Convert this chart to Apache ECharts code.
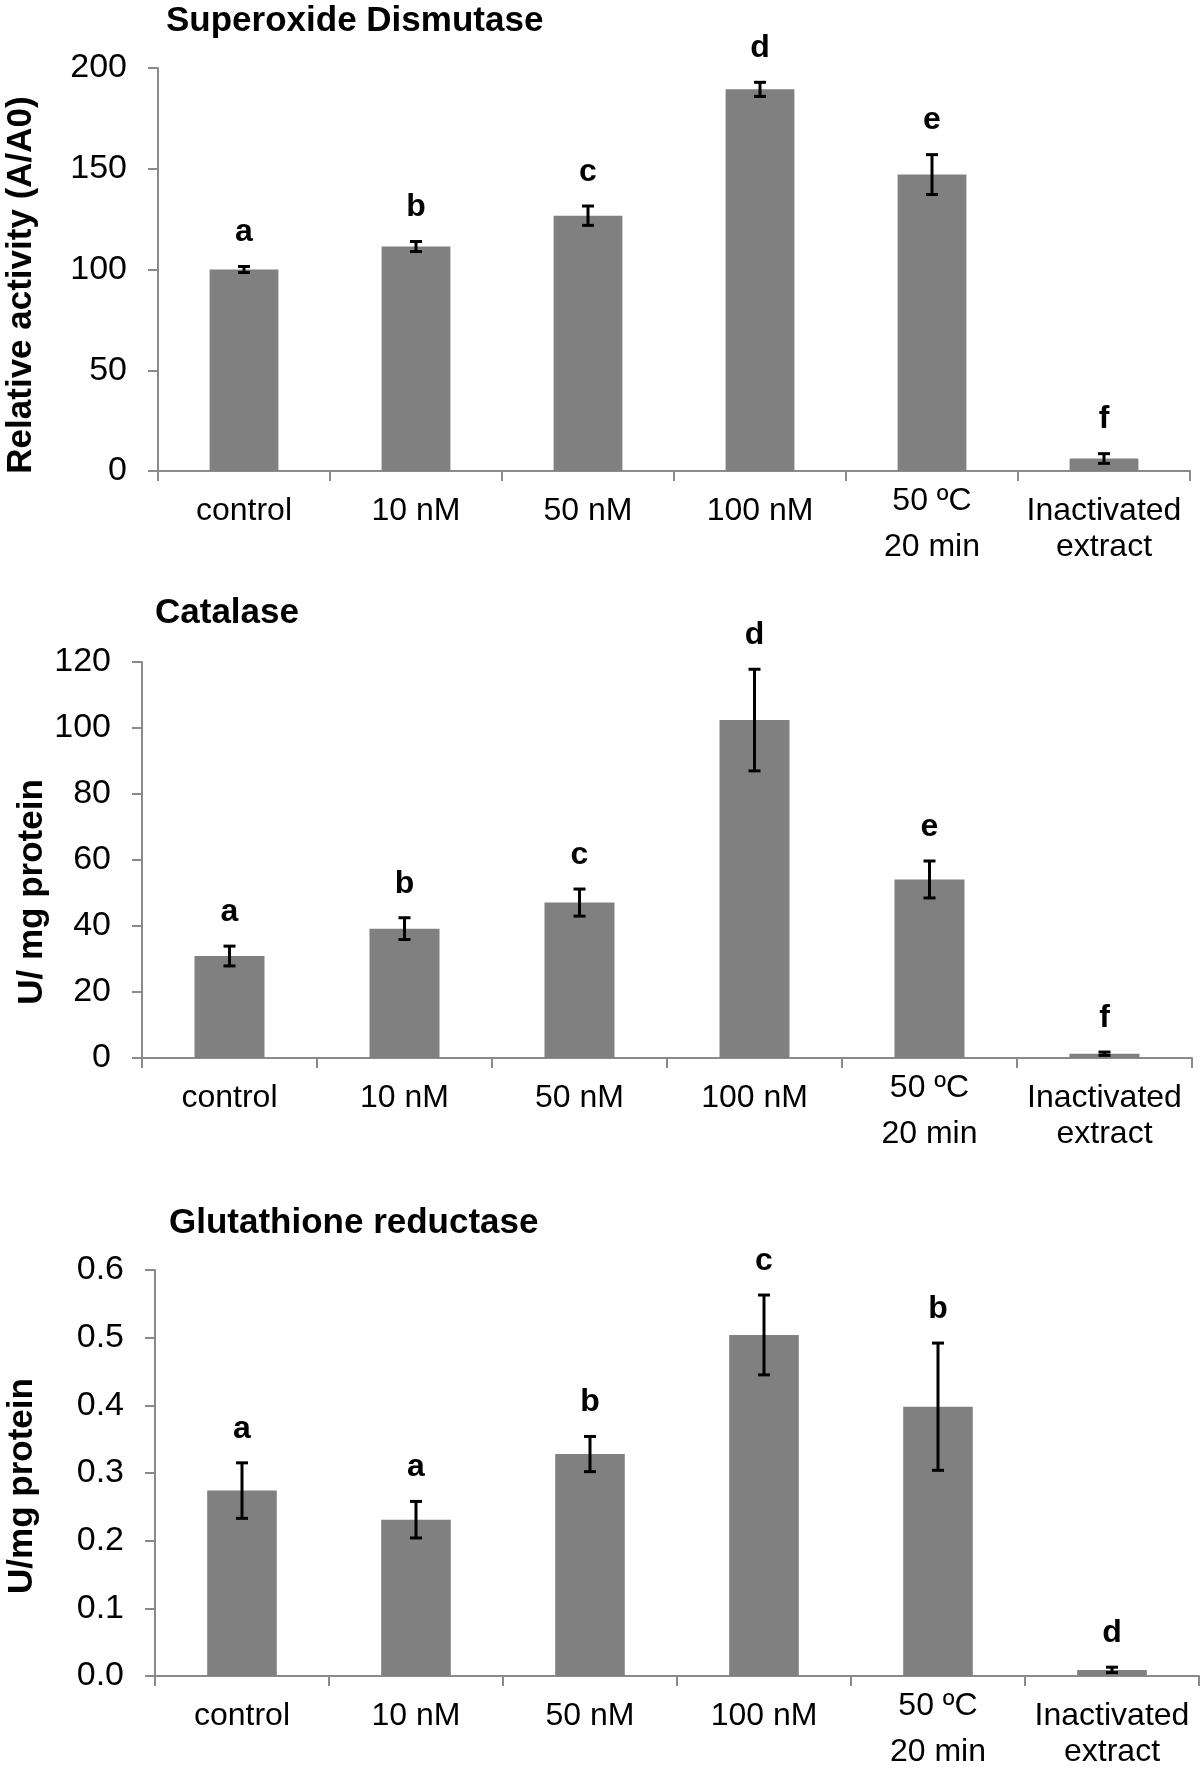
<!DOCTYPE html>
<html>
<head>
<meta charset="utf-8">
<script src="https://cdn.jsdelivr.net/npm/echarts@6/dist/echarts.min.js"></script>
<style>
  html, body { margin: 0; padding: 0; background: #fff; }
  #main { width: 1200px; height: 1771px; }
</style>
</head>
<body>
<div id="main"></div>
<script>
const categories = ['control', '10 nM', '50 nM', '100 nM', '50 ºC\n20 min', 'Inactivated\nextract'];

// Superoxide Dismutase, relative activity (A/A0)
const sodValues = [100, 111.4, 126.7, 189.4, 147.1, 6.2];
const sodErrors = [1.5, 2.5, 4.8, 3.5, 9.9, 2.4];
const sodLetters = ['a', 'b', 'c', 'd', 'e', 'f'];

// Catalase, U/ mg protein
const catValues = [30.9, 39.2, 47.1, 102.4, 54.1, 1.3];
const catErrors = [3.0, 3.3, 4.1, 15.4, 5.6, 0.5];
const catLetters = ['a', 'b', 'c', 'd', 'e', 'f'];

// Glutathione reductase, U/mg protein
const grValues = [0.274, 0.231, 0.328, 0.504, 0.398, 0.009];
const grErrors = [0.041, 0.027, 0.026, 0.059, 0.094, 0.004];
const grLetters = ['a', 'a', 'b', 'c', 'b', 'd'];

const FONT = '"Liberation Sans", Arial, Helvetica, sans-serif';
const AXIS_GREY = '#8a8a8a';
const BAR_GREY = '#808080';

function xAxisFor(idx) {
  return {
    type: 'category',
    gridIndex: idx,
    data: categories,
    axisLine: { lineStyle: { color: AXIS_GREY, width: 2 } },
    axisTick: { show: true, length: 10, interval: 0, lineStyle: { color: AXIS_GREY, width: 2 } },
    axisLabel: {
      interval: 0,
      margin: 22,
      color: '#000',
      fontFamily: FONT,
      fontSize: 32,
      lineHeight: 36,
      formatter: function (v) {
        if (v.indexOf('ºC') >= 0) {
          const p = v.split('\n');
          return '{up|' + p[0] + '}\n{dn|' + p[1] + '}';
        }
        return v;
      },
      rich: {
        up: { fontFamily: FONT, fontSize: 32, color: '#000', lineHeight: 16 },
        dn: { fontFamily: FONT, fontSize: 32, color: '#000', lineHeight: 76 }
      }
    }
  };
}

function yAxisFor(idx, max, interval, decimals) {
  return {
    type: 'value',
    gridIndex: idx,
    min: 0,
    max: max,
    interval: interval,
    splitLine: { show: false },
    axisLine: { show: true, lineStyle: { color: AXIS_GREY, width: 2 } },
    axisTick: { show: true, length: 10, lineStyle: { color: AXIS_GREY, width: 2 } },
    axisLabel: {
      margin: 31,
      color: '#000',
      fontFamily: FONT,
      fontSize: 34,
      formatter: function (v) { return decimals ? v.toFixed(decimals) : String(v); }
    }
  };
}

function barSeries(idx, values) {
  return {
    type: 'bar',
    xAxisIndex: idx,
    yAxisIndex: idx,
    data: values,
    barWidth: '40%',
    itemStyle: { color: BAR_GREY },
    silent: true
  };
}

// error bars plus the significance letter above each bar
function errorSeries(idx, values, errors, letters) {
  return {
    type: 'custom',
    xAxisIndex: idx,
    yAxisIndex: idx,
    data: values.map((v, i) => [i, v, errors[i]]),
    z: 5,
    renderItem: function (params, api) {
      const x = api.value(0);
      const hi = api.coord([x, api.value(1) + api.value(2)]);
      const lo = api.coord([x, api.value(1) - api.value(2)]);
      const cap = 6;
      const st = { stroke: '#000', lineWidth: 3 };
      return {
        type: 'group',
        children: [
          { type: 'line', shape: { x1: hi[0], y1: hi[1], x2: lo[0], y2: lo[1] }, style: st },
          { type: 'line', shape: { x1: hi[0] - cap, y1: hi[1], x2: hi[0] + cap, y2: hi[1] }, style: st },
          { type: 'line', shape: { x1: lo[0] - cap, y1: lo[1], x2: lo[0] + cap, y2: lo[1] }, style: st },
          {
            type: 'text',
            x: hi[0],
            y: hi[1] - 18,
            style: {
              text: letters[params.dataIndex],
              fill: '#000',
              font: 'bold 32px ' + FONT,
              align: 'center',
              verticalAlign: 'bottom'
            }
          }
        ]
      };
    }
  };
}

function heading(text, left, cy) {
  return {
    type: 'text', x: left, y: cy,
    style: { text: text, fill: '#000', font: 'bold 35px ' + FONT, verticalAlign: 'middle' }
  };
}

function axisName(text, cx, cy) {
  return {
    type: 'text', x: cx, y: cy, rotation: Math.PI / 2,
    style: { text: text, fill: '#000', font: 'bold 35px ' + FONT, align: 'center', verticalAlign: 'middle' }
  };
}

const chart = echarts.init(document.getElementById('main'));
chart.setOption({
  backgroundColor: '#fff',
  animation: false,
  grid: [
    { left: 158, right: 10, top: 68, height: 403, outerBoundsMode: 'none' },
    { left: 142, right: 8, top: 662, height: 396, outerBoundsMode: 'none' },
    { left: 155, right: 1, top: 1270, height: 406, outerBoundsMode: 'none' }
  ],
  xAxis: [xAxisFor(0), xAxisFor(1), xAxisFor(2)],
  yAxis: [
    yAxisFor(0, 200, 50, 0),
    yAxisFor(1, 120, 20, 0),
    yAxisFor(2, 0.6, 0.1, 1)
  ],
  series: [
    barSeries(0, sodValues),
    errorSeries(0, sodValues, sodErrors, sodLetters),
    barSeries(1, catValues),
    errorSeries(1, catValues, catErrors, catLetters),
    barSeries(2, grValues),
    errorSeries(2, grValues, grErrors, grLetters)
  ],
  graphic: [
    heading('Superoxide Dismutase', 166, 21),
    heading('Catalase', 155, 613),
    heading('Glutathione reductase', 169, 1223),
    axisName('Relative activity (A/A0)', 21, 285),
    axisName('U/ mg protein', 32, 892),
    axisName('U/mg protein', 22, 1486)
  ]
});
</script>
</body>
</html>
